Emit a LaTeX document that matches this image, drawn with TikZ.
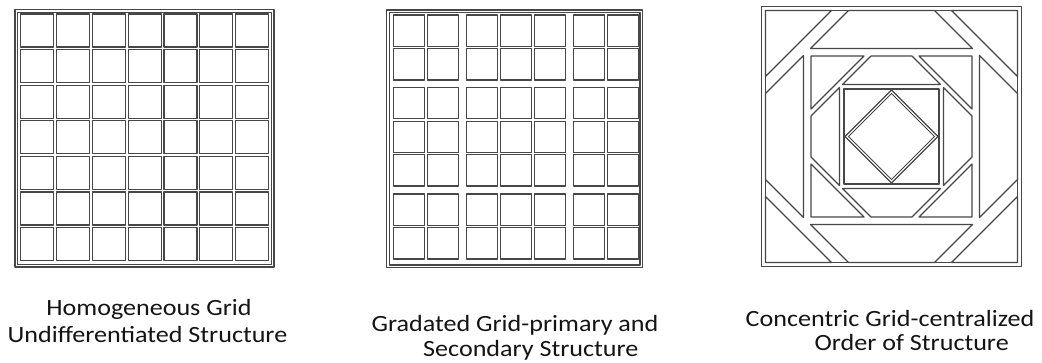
\documentclass[tikz,border=0pt]{standalone}
\usepackage{fontspec}
\setmainfont{Carlito}
\begin{document}
\begin{tikzpicture}[x=1pt,y=-1pt]
\tikzset{
  ln/.style={draw=black!72, line width=1.2pt, line join=round},
  lbl/.style={font=\fontsize{23.3}{27}\selectfont, anchor=base, inner sep=0pt, text=black!92, xscale=1.12, transform shape}
}
\useasboundingbox[fill=white] (0,0) rectangle (1042,362);

% ---------- Panel 1: homogeneous grid ----------
\draw[ln] (15,9.3) rectangle (274,267);
\draw[ln] (17.8,12.1) rectangle (271.2,264.2);
\foreach \i in {0,...,6}
  \foreach \j in {0,...,6}
    \draw[ln] ({20.7+35.8*\i},{14+35.6*\j}) rectangle ++(33,33);

% ---------- Panel 2: gradated grid ----------
\draw[ln] (386.7,10) rectangle (642.7,267.7);
\draw[ln] (389.5,12.8) rectangle (639.9,264.9);
\foreach \x in {393.3,427.3,466.3,500.3,534.3,573.3,607.3}
  \foreach \y in {15,48.6,87.5,121.1,154.7,194,227.6}
    \draw[ln] (\x,\y) rectangle ++(31.3,31.3);

% ---------- Panel 3: concentric grid ----------
\begin{scope}[shift={(891.5,136.5)}, yscale=-1]
  \draw[ln] (-130,-130) rectangle (130,130);
  \draw[ln] (-126,-126) rectangle (126,126);
  \foreach \r in {0,90,180,270}{
    \begin{scope}[rotate=\r]
      % outer ring
      \draw[ln] (-126,126) -- (-60,126) -- (-126,60) -- cycle;
      \draw[ln] (-43,126) -- (43,126) -- (81,88) -- (-81,88) -- cycle;
      % middle ring
      \draw[ln] (-80.5,80.5) -- (-27.5,80.5) -- (-80.5,27.5) -- cycle;
      \draw[ln] (-20.5,80.5) -- (20.5,80.5) -- (49,52) -- (-49,52) -- cycle;
    \end{scope}
  }
  % inner square and diamond
  \draw[ln] (-47.5,-47.5) rectangle (47.5,47.5);
  \draw[ln] (0,46.5) -- (46.5,0) -- (0,-46.5) -- (-46.5,0) -- cycle;
  \draw[ln, line width=0.9pt] (0,43) -- (43,0) -- (0,-43) -- (-43,0) -- cycle;
\end{scope}

% ---------- Labels ----------
\node[lbl] (l1a) at (149,315) {Homogeneous Grid};
\node[lbl] (l1b) at (147.5,342.3) {Undifferentiated Structure};
\node[lbl] (l2a) at (515,331.7) {Gradated Grid-primary and};
\node[lbl] (l2b) at (530.8,356.5) {Secondary Structure};
\node[lbl] (l3a) at (890,326.7) {Concentric Grid-centralized};
\node[lbl] (l3b) at (911.7,350) {Order of Structure};
\end{tikzpicture}
\end{document}
